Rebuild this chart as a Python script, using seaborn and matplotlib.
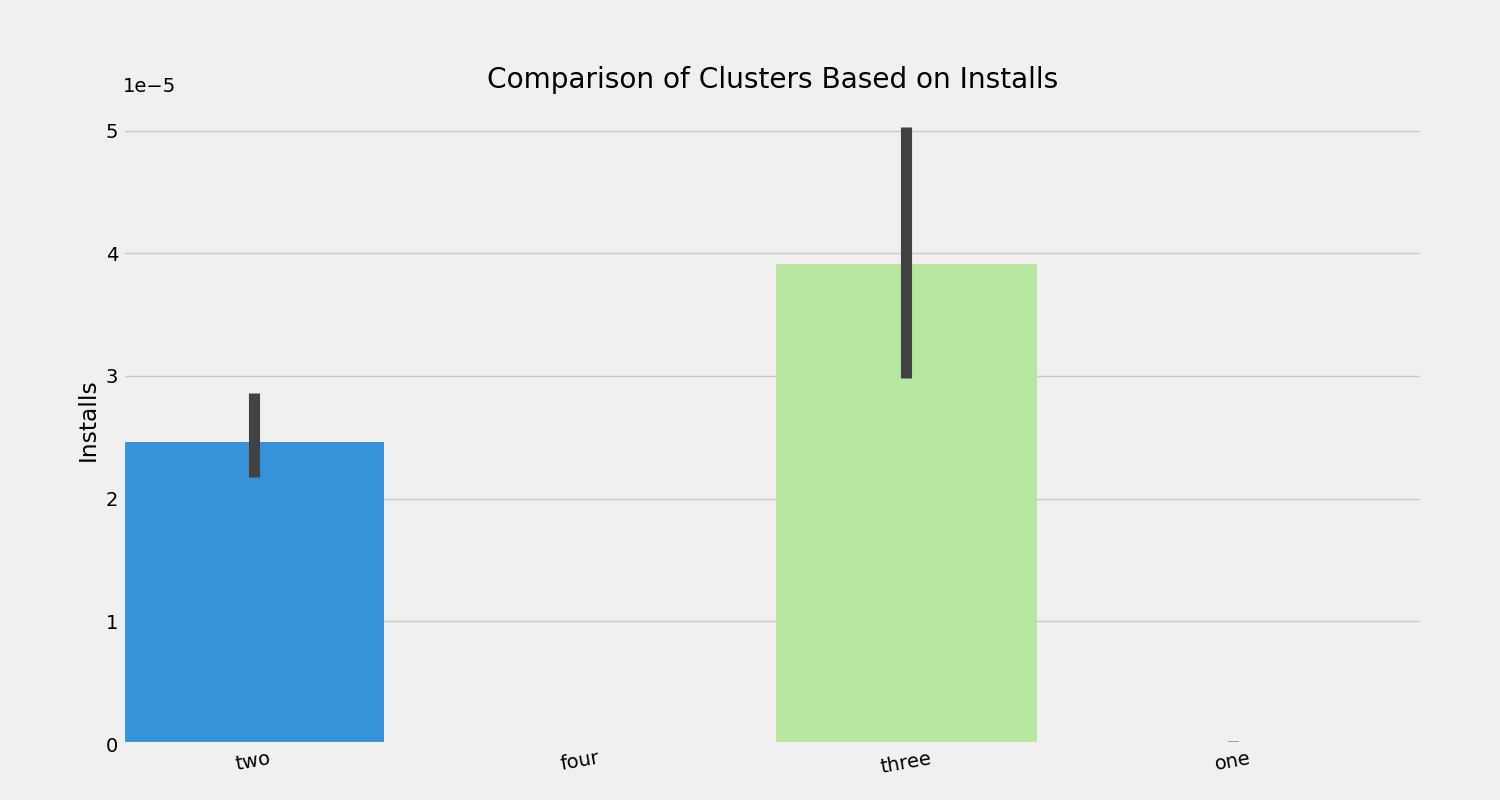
import matplotlib.pyplot as plt
import seaborn as sns
import pandas as pd
import numpy as np

clusters = ["two", "four", "three", "one"]
installs = [2.46e-5, 0.003e-5, 3.91e-5, 0.02e-5]
ci_low = [2.18e-5, 0.002e-5, 2.98e-5, 0.015e-5]
ci_high = [2.86e-5, 0.004e-5, 5.03e-5, 0.025e-5]
colors = ["#3792d8", "#9b59b6", "#b8e89f", "#95a5a6"]

plt.style.use("fivethirtyeight")
fig, ax = plt.subplots(figsize=(15, 8), dpi=100)
df = pd.DataFrame({"Cluster": clusters, "Installs": installs})
sns.barplot(data=df, x="Cluster", y="Installs", hue="Cluster", palette=colors,
            saturation=1, legend=False, errorbar=None, ax=ax)
xs = np.arange(len(clusters))
ax.vlines(xs, ci_low, ci_high, color="#424242", linewidth=8)
ax.set_xlim(-0.4, 3.58)
ax.set_title("Comparison of Clusters Based on Installs")
ax.set_xlabel("")
ax.set_ylabel("Installs")
ax.grid(axis="x", visible=False)
plt.xticks(rotation=10)
plt.subplots_adjust(left=0.082, right=0.948, top=0.88, bottom=0.07)
plt.savefig("out.png")
